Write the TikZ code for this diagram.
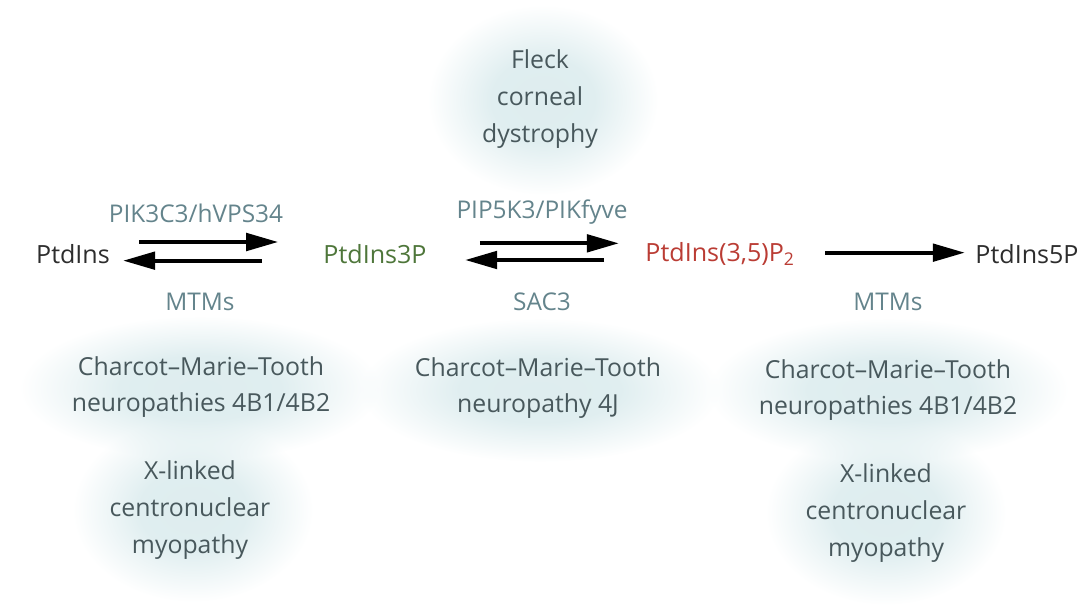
\documentclass[tikz,border=0pt]{standalone}
\usepackage{fontspec}
\setmainfont{Open Sans}
\usetikzlibrary{arrows.meta,fadings}
% soft cloud: flat in the middle, fading out to the rim
\pgfdeclareradialshading{blobmask}{\pgfpointorigin}{color(0bp)=(transparent!0); color(11bp)=(transparent!5); color(25bp)=(transparent!100); color(50bp)=(transparent!100)}
\pgfdeclarefading{blobfade}{\pgfuseshading{blobmask}}

\begin{document}
\begin{tikzpicture}[x=0.75pt,y=0.75pt,yscale=-1,xscale=1,
  lipid/.style={inner sep=0.75pt, font=\fontsize{18.8}{22}\selectfont},
  enz/.style={inner sep=0.75pt, color={rgb, 255:red, 100; green, 132; blue, 140 }, font=\fontsize{18.3}{22}\selectfont},
  dis/.style={inner sep=0.75pt, align=center, color={rgb, 255:red, 72; green, 88; blue, 92 }, font=\fontsize{18.6}{27.5}\selectfont},
  blob/.style={fill={rgb, 255:red, 222; green, 237; blue, 239 }, path fading=blobfade},
  rxn/.style={line width=3pt, -{Triangle[length=24pt,width=13pt]}}]
\useasboundingbox (0,0) rectangle (1079,614);

%Shape: Ellipse (clouds behind the diseases)
\fill [blob] (543,100) ellipse [x radius=115, y radius=95];
\fill [blob] (200,388) ellipse [x radius=180, y radius=72];
\fill [blob] (193,510) ellipse [x radius=120, y radius=92];
\fill [blob] (540,390) ellipse [x radius=180, y radius=72];
\fill [blob] (888,390) ellipse [x radius=180, y radius=72];
\fill [blob] (886,513) ellipse [x radius=120, y radius=92];

% Text Node
\draw (73,254) node (ptdins) [lipid, color={rgb, 255:red, 45; green, 45; blue, 45 }] {PtdIns};
% Text Node
\draw (375,254) node (ptdins3p) [lipid, color={rgb, 255:red, 78; green, 118; blue, 58 }] {PtdIns3P};
% Text Node
\draw (720,254) node (ptdins35p) [lipid, color={rgb, 255:red, 186; green, 60; blue, 52 }] {PtdIns(3,5)P\textsubscript{2}};
% Text Node
\draw (1027,254) node (ptdins5p) [lipid, color={rgb, 255:red, 45; green, 45; blue, 45 }] {PtdIns5P};

% Text Node
\draw (196,213) node (pik3c3) [enz] {PIK3C3/hVPS34};
% Text Node
\draw (200,302) node (mtm1) [enz] {MTMs};
% Text Node
\draw (542,212) node (pip5k3) [enz] {PIP5K3/PIKfyve};
% Text Node
\draw (542,302) node (sac3) [enz] {SAC3};
% Text Node
\draw (888,302) node (mtm2) [enz] {MTMs};

% Text Node
\draw (540,99) node (fleck) [dis] {Fleck\\corneal\\dystrophy};
% Text Node
\draw (201,387) node (cmt1) [dis] {Charcot--Marie--Tooth\\neuropathies 4B1/4B2};
% Text Node
\draw (190,510) node (xl1) [dis] {X-linked\\centronuclear\\myopathy};
% Text Node
\draw (538,388) node (cmt2) [dis] {Charcot--Marie--Tooth\\neuropathy 4J};
% Text Node
\draw (888,390) node (cmt3) [dis] {Charcot--Marie--Tooth\\neuropathies 4B1/4B2};
% Text Node
\draw (886,513) node (xl2) [dis] {X-linked\\centronuclear\\myopathy};

%Straight Lines (reactions)
\draw [rxn] ([xshift=21pt,yshift=-9pt]ptdins.east) -- ([xshift=-33pt,yshift=-9pt]ptdins3p.west);
\draw [rxn] ([xshift=-45pt,yshift=5pt]ptdins3p.west) -- ([xshift=9pt,yshift=5pt]ptdins.east);
\draw [rxn] ([xshift=39pt,yshift=-8pt]ptdins3p.east) -- ([xshift=-19pt,yshift=-8pt]ptdins35p.west);
\draw [rxn] ([xshift=-30pt,yshift=4.5pt]ptdins35p.west) -- ([xshift=28pt,yshift=4.5pt]ptdins3p.east);
\draw [rxn] ([xshift=22pt,yshift=-1pt]ptdins35p.east) -- ([xshift=-7pt,yshift=-1pt]ptdins5p.west);

\end{tikzpicture}
\end{document}
